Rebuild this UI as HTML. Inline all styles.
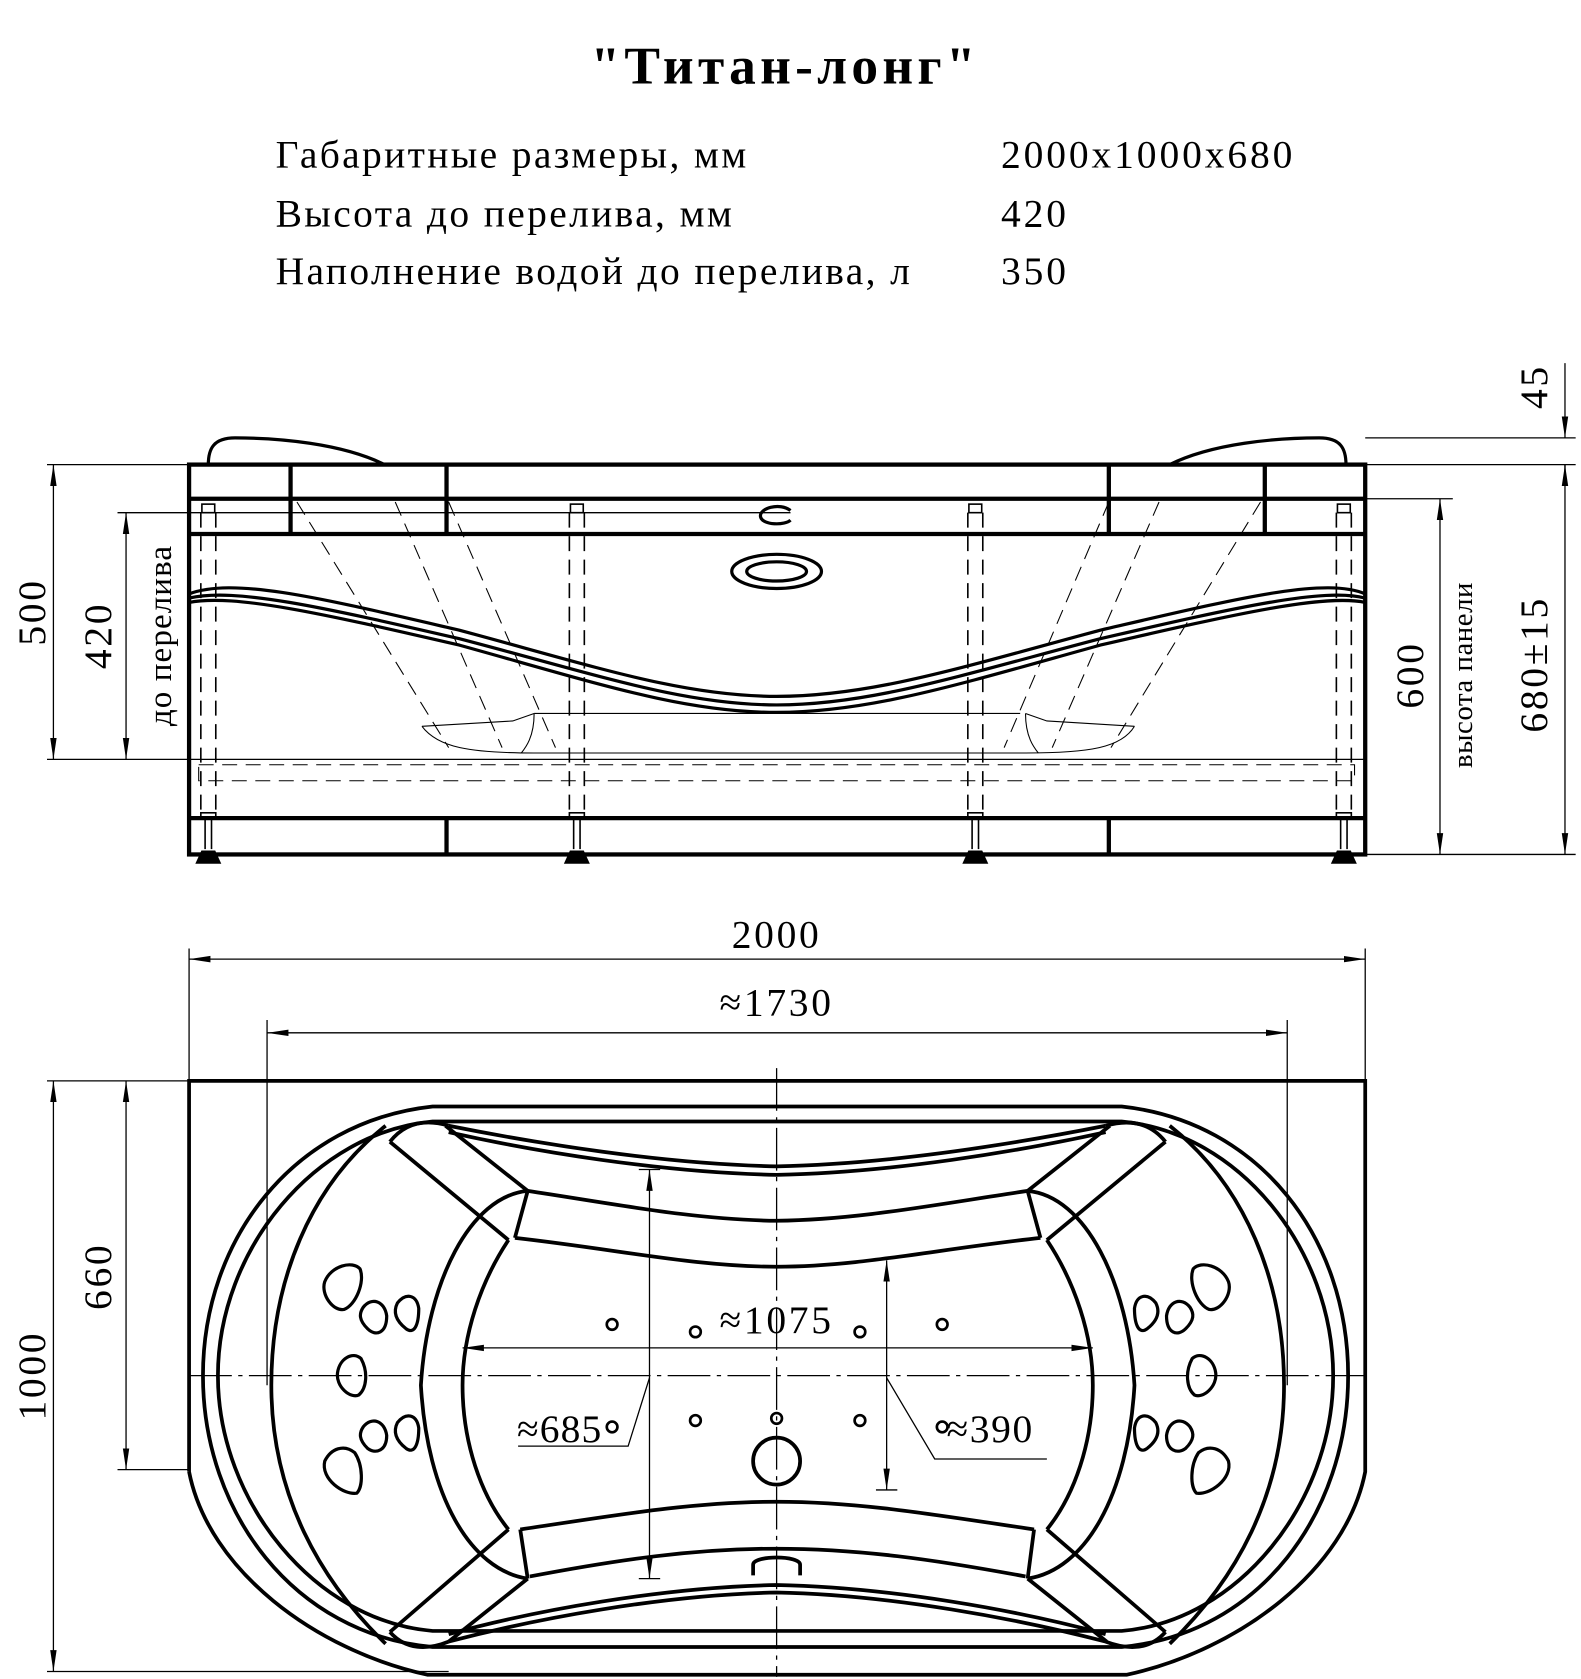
<!DOCTYPE html>
<html><head><meta charset="utf-8"><style>
html,body{margin:0;padding:0;background:#fff}
svg{display:block}
text{font-family:"Liberation Serif",serif;fill:#000}
</style></head><body>
<svg width="1581" height="1679" viewBox="0 0 1480 1572" preserveAspectRatio="none" xmlns="http://www.w3.org/2000/svg">
<defs>
<marker id="a" viewBox="0 0 20 8" refX="20" refY="4" markerWidth="20" markerHeight="8" orient="auto-start-reverse" markerUnits="userSpaceOnUse"><path d="M0,1 L20,4 L0,7 z" fill="#000"/></marker>
</defs>
<rect width="1480" height="1572" fill="#fff"/>
<text x="735" y="78" text-anchor="middle" font-size="50" font-weight="bold" letter-spacing="4">"Титан-лонг"</text>
<g font-size="37">
<text x="258" y="157" letter-spacing="2.2">Габаритные размеры, мм</text><text x="937" y="157" letter-spacing="2.7">2000x1000x680</text>
<text x="258" y="212" letter-spacing="2.2">Высота до перелива, мм</text><text x="937" y="212" letter-spacing="2.7">420</text>
<text x="258" y="266" letter-spacing="2.2">Наполнение водой до перелива, л</text><text x="937" y="266" letter-spacing="2.7">350</text>
</g>

<!-- FRONT VIEW -->
<g stroke="#000" fill="none">
<g stroke-width="1.2">
<line x1="44" y1="435" x2="177" y2="435"/>
<line x1="44" y1="711" x2="1278" y2="711"/>
<line x1="110" y1="480" x2="740" y2="480"/>
<line x1="1278" y1="410" x2="1475" y2="410"/>
<line x1="1278" y1="435" x2="1475" y2="435"/>
<line x1="1278" y1="467" x2="1360" y2="467"/>
<line x1="1278" y1="800" x2="1475" y2="800"/>
<line x1="50" y1="435" x2="50" y2="711" marker-start="url(#a)" marker-end="url(#a)"/>
<line x1="118" y1="480" x2="118" y2="711" marker-start="url(#a)" marker-end="url(#a)"/>
<line x1="1348" y1="467" x2="1348" y2="800" marker-start="url(#a)" marker-end="url(#a)"/>
<line x1="1465" y1="435" x2="1465" y2="800" marker-start="url(#a)" marker-end="url(#a)"/>
<line x1="1465" y1="340" x2="1465" y2="410" marker-end="url(#a)"/>
<line x1="1465" y1="435" x2="1465" y2="450"/>
</g>
<g stroke-width="4">
<rect x="177" y="435" width="1101" height="365"/>
<line x1="177" y1="467" x2="1278" y2="467"/>
<line x1="177" y1="500" x2="1278" y2="500"/>
<line x1="177" y1="766" x2="1278" y2="766"/>
<line x1="272" y1="435" x2="272" y2="500"/><line x1="418" y1="435" x2="418" y2="500"/>
<line x1="1038" y1="435" x2="1038" y2="500"/><line x1="1184" y1="435" x2="1184" y2="500"/>
<line x1="418" y1="766" x2="418" y2="800"/><line x1="1038" y1="766" x2="1038" y2="800"/>
</g>
<g stroke-width="3">
<path d="M195,435 C195,420 200,410 220,410 C260,410 320,415 360,435"/>
<path d="M1260,435 C1260,420 1255,410 1235,410 C1195,410 1135,415 1095,435"/>
<path d="M177,556 C220,540 300,560 430,590 C560,625 640,652 727,652 C815,652 900,625 1030,590 C1160,560 1240,540 1278,556"/>
<path d="M177,560 C220,550 300,568 430,598 C560,632 640,660 727,660 C815,660 900,632 1030,598 C1160,568 1240,550 1278,560"/>
<path d="M177,564 C220,556 300,574 430,604 C560,640 640,667 727,667 C815,667 900,640 1030,604 C1160,574 1240,556 1278,564"/>
<ellipse cx="727" cy="535" rx="42" ry="16"/>
<ellipse cx="727" cy="535" rx="28" ry="9"/>
<path d="M740,478 C730,470 710,476 712,484 C714,492 735,492 740,487"/>
</g>
<g stroke-width="1" stroke-dasharray="14,8">
<path d="M278,470 L420,700"/><path d="M370,470 L470,700"/><path d="M420,470 L520,700"/>
<path d="M1180,470 L1040,700"/><path d="M1085,470 L985,700"/><path d="M1038,470 L940,700"/>
<rect x="186" y="716" width="1082" height="15"/>
</g>
<g stroke-width="1">
<path d="M395,680 C410,700 440,705 500,705 L960,705 C1020,705 1050,700 1062,680"/>
<path d="M395,680 L480,675 L500,668 M1062,680 L980,675 L960,668"/>
<path d="M500,668 C500,690 492,700 488,705 M960,668 C960,690 968,700 972,705"/>
<path d="M500,668 L955,668"/>
</g>
<g stroke-width="1.5">
<g id="leg">
<rect x="189" y="472" width="12" height="8"/>
<rect x="188" y="761" width="14" height="5"/>
<line x1="192" y1="766" x2="192" y2="795"/><line x1="198" y1="766" x2="198" y2="795"/>
<path d="M184,808 L189,797 L201,797 L206,808 Z" fill="#000"/>
<line x1="188" y1="480" x2="188" y2="761" stroke-dasharray="14,8"/>
<line x1="202" y1="480" x2="202" y2="761" stroke-dasharray="14,8"/>
</g>
<use href="#leg" x="345"/><use href="#leg" x="718"/><use href="#leg" x="1063"/>
</g>
</g>
<g font-size="37" letter-spacing="2.5">
<text transform="translate(42,573) rotate(-90)" text-anchor="middle">500</text>
<text transform="translate(104,595) rotate(-90)" text-anchor="middle">420</text>
<text transform="translate(160,595) rotate(-90)" text-anchor="middle" font-size="31" letter-spacing="1">до перелива</text>
<text transform="translate(1448,362) rotate(-90)" text-anchor="middle">45</text>
<text transform="translate(1448,622) rotate(-90)" text-anchor="middle">680±15</text>
<text transform="translate(1332,632) rotate(-90)" text-anchor="middle">600</text>
<text transform="translate(1378,632) rotate(-90)" text-anchor="middle" font-size="27" letter-spacing="0.5">высота панели</text>
</g>

<!-- TOP VIEW -->
<g stroke="#000" fill="none">
<g stroke-width="1.2">
<line x1="177" y1="888" x2="177" y2="1012"/><line x1="1278" y1="888" x2="1278" y2="1012"/>
<line x1="250" y1="955" x2="250" y2="1297"/><line x1="1205" y1="955" x2="1205" y2="1297"/>
<line x1="177" y1="898" x2="1278" y2="898" marker-start="url(#a)" marker-end="url(#a)"/>
<line x1="250" y1="967" x2="1205" y2="967" marker-start="url(#a)" marker-end="url(#a)"/>
<line x1="44" y1="1012" x2="177" y2="1012"/><line x1="44" y1="1565" x2="420" y2="1565"/>
<line x1="110" y1="1376" x2="177" y2="1376"/>
<line x1="50" y1="1012" x2="50" y2="1565" marker-start="url(#a)" marker-end="url(#a)"/>
<line x1="118" y1="1012" x2="118" y2="1376" marker-start="url(#a)" marker-end="url(#a)"/>
<line x1="433" y1="1262" x2="1023" y2="1262" marker-start="url(#a)" marker-end="url(#a)"/>
<line x1="608" y1="1095" x2="608" y2="1478" marker-start="url(#a)" marker-end="url(#a)"/>
<line x1="598" y1="1095" x2="618" y2="1095"/><line x1="598" y1="1478" x2="618" y2="1478"/>
<line x1="830" y1="1180" x2="830" y2="1395" marker-start="url(#a)" marker-end="url(#a)"/>
<line x1="820" y1="1395" x2="840" y2="1395"/>
<path d="M608,1290 L588,1354 L485,1354"/>
<path d="M830,1290 L875,1366 L980,1366"/>
<line x1="177" y1="1288" x2="1278" y2="1288" stroke-dasharray="40,6,4,6"/>
<line x1="727" y1="1000" x2="727" y2="1570" stroke-dasharray="40,6,4,6"/>
</g>
<g stroke-width="3.5">
<path d="M177,1378 L177,1012 L1278,1012 L1278,1378 C1260,1470 1160,1545 1055,1568 L400,1568 C295,1545 195,1470 177,1378"/>
<path d="M405,1036 L1050,1036 C1180,1050 1262,1160 1262,1288 C1262,1416 1180,1530 1050,1542 L405,1542 C275,1530 190,1416 190,1288 C190,1160 275,1050 405,1036 Z"/>
<path d="M405,1050 L1050,1050 C1160,1060 1248,1170 1248,1288 C1248,1406 1160,1518 1050,1527 L405,1527 C295,1518 204,1406 204,1288 C204,1170 295,1060 405,1050 Z"/>
<path d="M420,1054 C500,1070 620,1090 727,1092 C834,1090 954,1070 1035,1054"/>
<path d="M420,1060 C500,1078 620,1098 727,1100 C834,1098 954,1078 1035,1060"/>
<path d="M420,1537 C500,1516 620,1493 727,1491 C834,1493 954,1516 1035,1537"/>
<path d="M420,1530 C500,1508 620,1486 727,1484 C834,1486 954,1508 1035,1530"/>
<path d="M494,1115 C580,1128 650,1142 727,1143 C804,1142 874,1128 962,1115"/>
<path d="M482,1159 C580,1170 650,1186 727,1186 C804,1186 874,1170 974,1159"/>
<path d="M487,1432 C580,1418 650,1406 727,1406 C804,1406 874,1418 968,1432"/>
<path d="M496,1476 C580,1460 650,1450 727,1450 C804,1450 874,1460 960,1476"/>
<path d="M361,1054 C290,1110 254,1200 254,1297 C254,1400 300,1480 361,1539"/>
<path d="M1095,1054 C1166,1110 1202,1200 1202,1297 C1202,1400 1156,1480 1095,1539"/>
<path d="M494,1115 C440,1120 400,1200 394,1297 C400,1400 440,1470 494,1478"/>
<path d="M962,1115 C1016,1120 1056,1200 1062,1297 C1056,1400 1016,1470 962,1478"/>
<path d="M476,1161 C450,1200 433,1250 433,1297 C433,1350 450,1400 476,1432"/>
<path d="M980,1161 C1006,1200 1023,1250 1023,1297 C1023,1350 1006,1400 980,1432"/>
<path d="M365,1069 L476,1161 M417,1054 L494,1115 M494,1115 L482,1159"/>
<path d="M365,1528 L476,1432 M420,1537 L494,1478 M494,1478 L487,1432"/>
<path d="M1091,1069 L980,1161 M1039,1054 L962,1115 M962,1115 L974,1159"/>
<path d="M1091,1528 L980,1432 M1036,1537 L962,1478 M962,1478 L968,1432"/>
<path d="M365,1069 C380,1050 400,1048 420,1054 M1091,1069 C1076,1050 1056,1048 1035,1054"/>
<path d="M365,1528 C380,1545 400,1545 420,1537 M1091,1528 C1076,1545 1056,1545 1035,1537"/>
<circle cx="727" cy="1368" r="22"/>
<path d="M705,1475 L705,1465 C705,1456 749,1456 749,1465 L749,1475"/>
</g>
<g stroke-width="3" id="jets">
<path d="M304,1200 C310,1185 330,1180 337,1188 C342,1200 333,1222 322,1226 C312,1228 300,1212 304,1200 Z"/>
<path d="M340,1224 C348,1214 360,1218 362,1232 C362,1248 352,1252 344,1244 C336,1236 336,1230 340,1224 Z"/>
<path d="M372,1220 C380,1210 390,1212 392,1225 C392,1240 388,1250 380,1244 C370,1236 368,1228 372,1220 Z"/>
<path d="M316,1285 C318,1272 330,1265 338,1272 C345,1285 343,1300 336,1306 C328,1310 314,1298 316,1285 Z"/>
<path d="M340,1336 C348,1326 360,1330 362,1344 C362,1358 352,1362 344,1356 C336,1348 336,1342 340,1336 Z"/>
<path d="M372,1332 C380,1322 390,1324 392,1337 C392,1352 388,1362 380,1356 C370,1348 368,1340 372,1332 Z"/>
<path d="M304,1368 C310,1356 322,1352 332,1360 C340,1372 340,1392 334,1398 C322,1400 300,1385 304,1368 Z"/>
</g>
<use href="#jets" transform="translate(1454,0) scale(-1,1)"/>
<g stroke-width="2.5">
<circle cx="573" cy="1240" r="5"/><circle cx="651" cy="1247" r="5"/><circle cx="805" cy="1247" r="5"/><circle cx="882" cy="1240" r="5"/>
<circle cx="573" cy="1336" r="5"/><circle cx="651" cy="1330" r="5"/><circle cx="727" cy="1328" r="5"/><circle cx="805" cy="1330" r="5"/><circle cx="882" cy="1336" r="5"/>
</g>
</g>
<g font-size="37" letter-spacing="2.5">
<text x="727" y="887" text-anchor="middle">2000</text>
<text x="727" y="951" text-anchor="middle">≈1730</text>
<text x="727" y="1248" text-anchor="middle">≈1075</text>
<text x="484" y="1350" letter-spacing="1">≈685</text>
<text x="886" y="1350" letter-spacing="1.5">≈390</text>
<text transform="translate(42,1288) rotate(-90)" text-anchor="middle">1000</text>
<text transform="translate(104,1195) rotate(-90)" text-anchor="middle">660</text>
</g>
</svg>
</body></html>
